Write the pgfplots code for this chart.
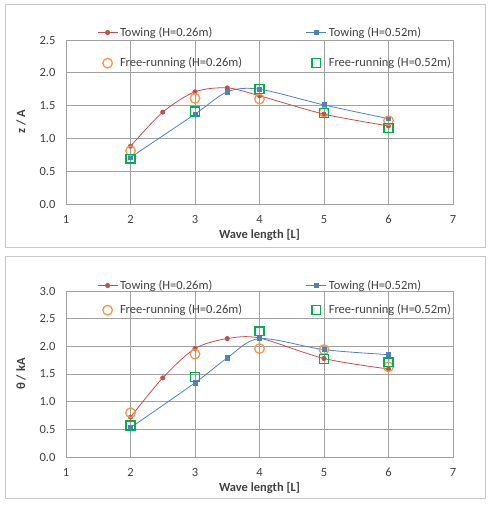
\documentclass[border=0pt]{standalone}
\usepackage{fontspec}
\setmainfont{Carlito}
\usepackage{pgfplots}
\pgfplotsset{compat=1.18}
\definecolor{cred}{HTML}{C0504D}
\definecolor{cblue}{HTML}{4F81BD}
\definecolor{corange}{HTML}{F79646}
\definecolor{cgreen}{HTML}{00B050}
\definecolor{cgrid}{HTML}{A0A0A0}
\definecolor{ctext}{HTML}{404040}
\definecolor{cframe}{HTML}{C8C8C8}
\pgfplotsset{
  panel/.style={
    scale only axis, width=387pt,
    xmin=1, xmax=7, ymin=0,
    xtick={1,2,...,7},
    grid=major, major grid style={cgrid, line width=0.6pt},
    axis line style={cgrid, line width=0.6pt},
    tick style={draw=none},
    /pgf/number format/assume math mode=true,
    /pgf/number format/fixed, /pgf/number format/fixed zerofill,
    /pgf/number format/precision=1,
    xticklabel={\pgfmathprintnumber[fixed,precision=0]{\tick}},
    ticklabel style={font=\fontsize{12.5}{14}\selectfont, text=ctext},
    yticklabel style={xshift=-7pt},
    xticklabel style={yshift=-8pt},
    label style={font=\fontsize{12.5}{14}\selectfont\bfseries, text=ctext},
    xlabel={Wave length [L]},
    xlabel style={yshift=2pt},
    legend columns=2,
    legend cell align=left,
    legend style={draw=none, fill=none, font=\fontsize{12.5}{14}\selectfont, text=ctext,
      at={(rel axis cs:0,1)}, anchor=north west, xshift=28pt,
      column sep=0pt},
    legend image code/.code={\draw[mark repeat=2,mark phase=2,##1] plot coordinates {(0pt,0pt) (10pt,0pt) (20pt,0pt)};},
  },
  tow1/.style={cred, line width=0.8pt, smooth, tension=0.5, mark=*, mark size=2.1pt, mark options={solid, fill=cred}},
  tow2/.style={cblue, line width=0.8pt, smooth, tension=0.5, mark=square*, mark size=2.1pt, mark options={solid, fill=cblue}},
  fr1/.style={only marks, mark=o, mark size=4.8pt, mark options={corange, line width=1.3pt}},
  fr2/.style={only marks, mark=square, mark size=4.4pt, mark options={cgreen, line width=1.3pt}},
}
\begin{document}
\begin{tikzpicture}
\path (0pt,0pt) rectangle (495pt,505pt);
\draw[cframe, line width=0.8pt] (5pt,258pt) rectangle (485pt,501pt);
\draw[cframe, line width=0.8pt] (5pt,7pt) rectangle (485pt,249pt);
\begin{axis}[panel, at={(66pt,301pt)}, anchor=south west, height=164pt,
  legend style={yshift=17pt, row sep=16pt},
  ymax=2.5, ytick={0,0.5,...,2.5}, ylabel={z / A}, ylabel style={yshift=7pt}]
\addplot[tow1] coordinates {(2,0.88) (2.5,1.40) (3,1.71) (3.5,1.77) (4,1.65) (5,1.37) (6,1.19)};
\addlegendentry{\makebox[184pt][l]{Towing (H=0.26m)}}
\addplot[tow2] coordinates {(2,0.71) (3,1.37) (3.5,1.71) (4,1.75) (5,1.51) (6,1.30)};
\addlegendentry{Towing (H=0.52m)}
\addplot[fr1] coordinates {(2,0.81) (3,1.61) (4,1.60) (5,1.40) (6,1.27)};
\addlegendentry{\makebox[184pt][l]{Free-running (H=0.26m)}}
\addplot[fr2] coordinates {(2,0.69) (3,1.41) (4,1.75) (5,1.39) (6,1.16)};
\addlegendentry{Free-running (H=0.52m)}
\end{axis}
\begin{axis}[panel, at={(66pt,48pt)}, anchor=south west, height=166pt,
  legend style={yshift=15pt, row sep=10pt},
  ymax=3.0, ytick={0,0.5,...,3.0}, ylabel={θ / kA}, ylabel style={yshift=7pt}]
\addplot[tow1] coordinates {(2,0.72) (2.5,1.43) (3,1.96) (3.5,2.14) (4,2.15) (5,1.78) (6,1.59)};
\addlegendentry{\makebox[184pt][l]{Towing (H=0.26m)}}
\addplot[tow2] coordinates {(2,0.53) (3,1.34) (3.5,1.79) (4,2.14) (5,1.94) (6,1.85)};
\addlegendentry{Towing (H=0.52m)}
\addplot[fr1] coordinates {(2,0.80) (3,1.86) (4,1.96) (5,1.94) (6,1.63)};
\addlegendentry{\makebox[184pt][l]{Free-running (H=0.26m)}}
\addplot[fr2] coordinates {(2,0.57) (3,1.45) (4,2.27) (5,1.77) (6,1.71)};
\addlegendentry{Free-running (H=0.52m)}
\end{axis}
\end{tikzpicture}
\end{document}
